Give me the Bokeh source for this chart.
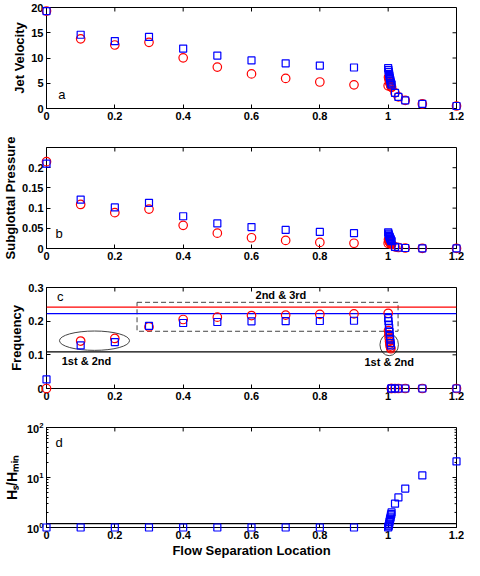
import math
from bokeh.plotting import figure
from bokeh.layouts import column
from bokeh.models import Range1d, FixedTicker, Span, Label
from bokeh.embed import file_html
from bokeh.resources import INLINE

FONT = "Liberation Sans"

# ---------------- data ----------------
X_LOC = [0.0, 0.1, 0.2, 0.3, 0.4, 0.5, 0.6, 0.7, 0.8, 0.9,
         1.0, 1.001, 1.002, 1.003, 1.004, 1.005, 1.006, 1.007, 1.008, 1.009, 1.01,
         1.02, 1.03, 1.05, 1.1, 1.2]

JET_BLUE = [19.3, 14.6, 13.35, 14.2, 11.86, 10.49, 9.52, 8.95, 8.5, 8.12,
            8.0, 7.6, 7.2, 6.8, 6.4, 6.0, 5.7, 5.4, 5.1, 4.9, 4.7,
            3.1, 2.3, 1.6, 0.9, 0.5]
JET_RED = [19.3, 13.8, 12.57, 13.1, 10.03, 8.2, 6.85, 5.96, 5.25, 4.68,
           4.5, 6.2, 6.0, 5.7, 5.4, 5.1, 4.9, 4.7, 4.5, 4.3, 4.2,
           3.1, 2.3, 1.6, 0.9, 0.5]

PRESS_BLUE = [0.21, 0.121, 0.1016, 0.113, 0.0798, 0.062, 0.053, 0.046, 0.041, 0.038,
              0.040, 0.037, 0.034, 0.031, 0.029, 0.027, 0.025, 0.023, 0.021, 0.019, 0.018,
              0.004, 0.0025, 0.0012, 0.0005, 0.0002]
PRESS_RED = [0.215, 0.109, 0.0887, 0.0976, 0.0573, 0.038, 0.0266, 0.020, 0.015, 0.013,
             0.013, 0.022, 0.020, 0.018, 0.017, 0.015, 0.014, 0.013, 0.012, 0.011, 0.010,
             0.004, 0.0025, 0.0012, 0.0005, 0.0002]

FREQ_BLUE = [0.027, 0.128, 0.138, 0.186, 0.1946, 0.1975, 0.1994, 0.200, 0.2005, 0.2013,
             0.209, 0.200, 0.190, 0.180, 0.168, 0.156, 0.145, 0.135, 0.128, 0.0, 0.0,
             0.0, 0.0, 0.0, 0.0, 0.0]
FREQ_RED = [0.0, 0.141, 0.1486, 0.183, 0.205, 0.212, 0.2167, 0.218, 0.220, 0.2215,
            0.2234, 0.172, 0.160, 0.150, 0.140, 0.132, 0.126, 0.122, 0.118, 0.0, 0.0,
            0.0, 0.0, 0.0, 0.0, 0.0]
FREQ_LINE_RED = 0.2416
FREQ_LINE_BLUE = 0.2224
FREQ_LINE_BLACK = 0.109

H_RATIO = [1.0, 1.0, 1.0, 1.0, 1.0, 1.0, 1.0, 1.0, 1.0, 1.0,
           1.0, 1.05, 1.1, 1.2, 1.3, 1.4, 1.5, 1.6, 1.75, 1.85, 2.0,
           3.0, 4.0, 6.0, 11.0, 21.0]
H_LINE = 1.2

X_TICKS = [0, 0.2, 0.4, 0.6, 0.8, 1.0, 1.2]
X_TICK_LABELS = ["0", "0.2", "0.4", "0.6", "0.8", "1", "1.2"]
JET_TICKS = [0, 5, 10, 15, 20]
JET_TICK_LABELS = ["0", "5", "10", "15", "20"]
PRESS_TICKS = [0, 0.05, 0.1, 0.15, 0.2]
PRESS_TICK_LABELS = ["0", "0.05", "0.1", "0.15", "0.2"]
FREQ_TICKS = [0, 0.1, 0.2, 0.3]
FREQ_TICK_LABELS = ["0", "0.1", "0.2", "0.3"]
LOG_TICKS = [1, 10, 100]
LOG_MINOR_TICKS = [2, 3, 4, 5, 6, 7, 8, 9, 20, 30, 40, 50, 60, 70, 80, 90]

# annotations in panel c
ELL_X = [0.1405, 1.003]
ELL_Y = [0.142, 0.130]
ELL_W = [0.205, 0.054]
ELL_H = [0.0575, 0.065]
BOX_LEFT, BOX_RIGHT, BOX_BOTTOM, BOX_TOP = 0.265, 1.029, 0.17, 0.256
NOTE_TEXT = ["1st & 2nd", "2nd & 3rd", "1st & 2nd"]
NOTE_X = [0.117, 0.686, 1.003]
NOTE_Y = [0.081, 0.277, 0.078]

RED = "#ff0000"
BLUE = "#0000ff"

FIG_W = 464
B_LEFT, B_RIGHT = 42, 8
FRAME_W = FIG_W - B_LEFT - B_RIGHT
FRAME_H = 101
X0, X1 = 0.0, 1.2
TICK_PX = 4


def style_axis(ax):
    ax.major_tick_in = TICK_PX
    ax.major_tick_out = 0
    ax.minor_tick_in = 0
    ax.minor_tick_out = 0
    ax.axis_line_color = "black"
    ax.major_tick_line_color = "black"
    ax.minor_tick_line_color = "black"
    ax.major_label_text_font = FONT
    ax.major_label_text_font_style = "bold"
    ax.major_label_text_color = "black"
    ax.major_label_text_font_size = "11px"
    ax.major_label_standoff = 3
    ax.axis_label_text_font = FONT
    ax.axis_label_text_font_size = "13px"
    ax.axis_label_text_font_style = "bold"
    ax.axis_label_text_color = "black"
    ax.axis_label_standoff = 1


def mirror_ticks(p, yticks, y0, y1, log=False, minor=None):
    # ticks on the right and top edges of the box (MATLAB "box on" look)
    dx = (X1 - X0) * TICK_PX / FRAME_W
    n = len(yticks)
    p.segment(x0=[X1 - dx] * n, y0=yticks, x1=[X1] * n, y1=yticks,
              line_color="black", line_width=1)
    if minor:
        m = len(minor)
        p.segment(x0=[X1 - dx / 2] * m, y0=minor, x1=[X1] * m, y1=minor,
                  line_color="black", line_width=1)
    if log:
        ylow = y1 * 10 ** (-(TICK_PX / FRAME_H) * math.log10(y1 / y0))
    else:
        ylow = y1 - (y1 - y0) * TICK_PX / FRAME_H
    k = len(X_TICKS)
    p.segment(x0=X_TICKS, y0=[ylow] * k, x1=X_TICKS, y1=[y1] * k,
              line_color="black", line_width=1)


def make_fig(h, top, bottom, y0, y1, yticks, ylabels, ylabel, log=False, minor=None):
    p = figure(width=FIG_W, height=h, x_range=Range1d(X0, X1), y_range=Range1d(y0, y1),
               y_axis_type="log" if log else "linear",
               output_backend="svg", toolbar_location=None,
               min_border_left=B_LEFT, min_border_right=B_RIGHT,
               min_border_top=top, min_border_bottom=bottom)
    p.xgrid.visible = False
    p.ygrid.visible = False
    p.outline_line_color = "black"
    p.outline_line_width = 1
    p.xaxis.ticker = FixedTicker(ticks=X_TICKS)
    p.xaxis.major_label_overrides = dict(zip(X_TICKS, X_TICK_LABELS))
    for ax in p.xaxis:
        style_axis(ax)
    for ax in p.yaxis:
        style_axis(ax)
    p.yaxis.axis_label = ylabel
    if not log:
        p.yaxis.ticker = FixedTicker(ticks=yticks)
        p.yaxis.major_label_overrides = dict(zip(yticks, ylabels))
    else:
        for ax in p.yaxis:
            ax.minor_tick_in = 2
    mirror_ticks(p, yticks, y0, y1, log=log, minor=minor)
    return p


def label(p, x, y, text, size="13px", style="normal"):
    p.add_layout(Label(x=x, y=y, text=text, text_font=FONT, text_font_size=size,
                       text_font_style=style, text_color="black",
                       text_align="center", text_baseline="middle"))


def markers(p, red, blue):
    if red is not None:
        p.scatter(X_LOC, red, marker="circle", size=8.5, fill_color=None,
                  line_color=RED, line_width=1.2, level="overlay")
    p.scatter(X_LOC, blue, marker="square", size=7, fill_color=None,
              line_color=BLUE, line_width=1.2, level="overlay")


# ---------------- panel a ----------------
pa = make_fig(129, 7, 21, 0, 20, JET_TICKS, JET_TICK_LABELS, "Jet Velocity")
markers(pa, JET_RED, JET_BLUE)
label(pa, 0.045, 2.8, "a")

# ---------------- panel b ----------------
pb = make_fig(140, 18, 21, 0, 0.25, PRESS_TICKS, PRESS_TICK_LABELS, "Subglottal Pressure")
markers(pb, PRESS_RED, PRESS_BLUE)
label(pb, 0.037, 0.036, "b")

# ---------------- panel c ----------------
pc = make_fig(140, 18, 21, 0, 0.3, FREQ_TICKS, FREQ_TICK_LABELS, "Frequency")
pc.add_layout(Span(location=FREQ_LINE_RED, dimension="width", line_color=RED, line_width=1.2))
pc.add_layout(Span(location=FREQ_LINE_BLUE, dimension="width", line_color=BLUE, line_width=1.2))
pc.add_layout(Span(location=FREQ_LINE_BLACK, dimension="width", line_color="black", line_width=1.2))
pc.quad(left=[BOX_LEFT], right=[BOX_RIGHT], bottom=[BOX_BOTTOM], top=[BOX_TOP],
        fill_color=None, line_color="#444444", line_dash="5 3", line_width=1)
pc.ellipse(x=ELL_X, y=ELL_Y, width=ELL_W, height=ELL_H, fill_color=None,
           line_color="#444444", line_width=1)
markers(pc, FREQ_RED, FREQ_BLUE)
for t, x, y in zip(NOTE_TEXT, NOTE_X, NOTE_Y):
    label(pc, x, y, t, size="11px", style="bold")
label(pc, 0.04, 0.274, "c")

# ---------------- panel d ----------------
pd = make_fig(151, 18, 32, 1, 100, LOG_TICKS, None, "H\u209b/H\u2098\u1d62\u2099",
              log=True, minor=LOG_MINOR_TICKS)
for ax in pd.yaxis:
    ax.axis_label_text_font_size = "14px"
    ax.axis_label_standoff = 4
pd.xaxis.axis_label = "Flow Separation Location"
pd.add_layout(Span(location=H_LINE, dimension="width", line_color="black", line_width=1.2))
markers(pd, None, H_RATIO)
label(pd, 0.037, 49, "d")

layout = column(pa, pb, pc, pd)
open("out.html", "w").write(file_html(layout, INLINE))
